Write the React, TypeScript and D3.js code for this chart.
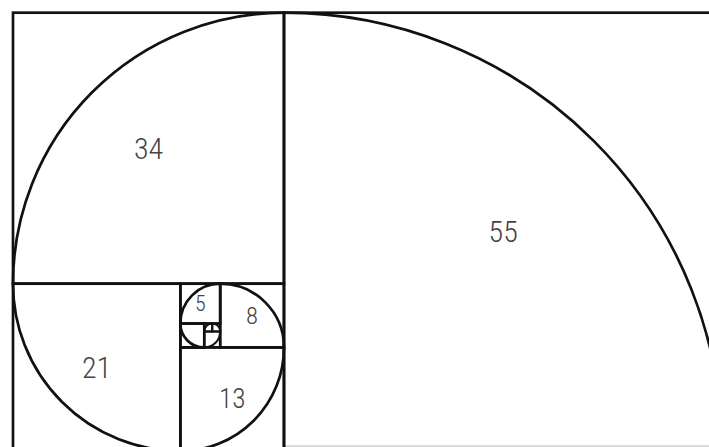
import React, { useEffect } from 'react';
import * as d3 from 'd3';

// Fibonacci squares, biggest first, and the side each one is cut from
const sizes = [55, 34, 21, 13, 8, 5, 3, 2, 1, 1];
const sides = ['right', 'top', 'left', 'bottom'];
const labelled = [55, 34, 21, 13, 8, 5];

const W = 709;
const H = 447;
const unit = 7.97;
const x0 = 13;
const y0 = 12.7;

const App = () => {
    useEffect(() => {
        document.body.style.margin = '0';
    }, []);

    const total = sizes[0] + sizes[1];
    const x = d3.scaleLinear().domain([0, total]).range([x0, x0 + total * unit]);
    const y = d3.scaleLinear().domain([0, sizes[0]]).range([y0, y0 + sizes[0] * unit]);
    const fontSize = d3.scaleLog().domain([5, 21]).range([22, 30]).clamp(true);

    // peel squares off the rectangle, spiral order
    let rect = { x: 0, y: 0, w: total, h: sizes[0] };
    const squares = sizes.map((s, i) => {
        const side = sides[i % 4];
        let sq, cx, cy, a0, a1;
        if (side === 'right') {
            sq = { x: rect.x + rect.w - s, y: rect.y };
            rect = { ...rect, w: rect.w - s };
            cx = sq.x; cy = sq.y + s; a0 = -Math.PI / 2; a1 = 0;
        } else if (side === 'top') {
            sq = { x: rect.x, y: rect.y };
            rect = { ...rect, y: rect.y + s, h: rect.h - s };
            cx = sq.x + s; cy = sq.y + s; a0 = Math.PI; a1 = Math.PI * 1.5;
        } else if (side === 'left') {
            sq = { x: rect.x, y: rect.y };
            rect = { ...rect, x: rect.x + s, w: rect.w - s };
            cx = sq.x + s; cy = sq.y; a0 = Math.PI / 2; a1 = Math.PI;
        } else {
            sq = { x: rect.x, y: rect.y + rect.h - s };
            rect = { ...rect, h: rect.h - s };
            cx = sq.x; cy = sq.y; a0 = 0; a1 = Math.PI / 2;
        }
        const p = d3.path();
        const r = x(s) - x(0);
        p.moveTo(x(cx) + r * Math.cos(a0), y(cy) + r * Math.sin(a0));
        p.arc(x(cx), y(cy), r, a0, a1);
        return { s, i, ...sq, arc: p.toString() };
    });

    return (
        <svg width={W} height={H} style={{ position: 'absolute', left: 0, top: 0, background: '#fff' }}>
            <rect width={W} height={H} fill="#fff" />
            {/* faint scan edge along the bottom */}
            <line x1={x(sizes[1])} x2={W} y1={446} y2={446} stroke="#b5b5b5" strokeWidth={1} />
            {squares.map(d => (
                <rect key={'r' + d.i}
                    x={x(d.x)} y={y(d.y)}
                    width={x(d.s) - x(0)} height={y(d.s) - y(0)}
                    fill="none" stroke="#111" strokeWidth={d.s > 2 ? 2.7 : 2} />
            ))}
            {squares.map(d => (
                <path key={'a' + d.i} d={d.arc} fill="none" stroke="#111" strokeWidth={d.s > 2 ? 2.7 : 2} />
            ))}
            {squares.filter(d => labelled.includes(d.s)).map(d => (
                <text key={'t' + d.i}
                    x={x(d.x + d.s / 2)} y={y(d.y + d.s / 2)}
                    textAnchor="middle" dominantBaseline="central"
                    fontFamily="'Liberation Sans Narrow', 'Roboto Condensed', 'Liberation Sans', sans-serif"
                    fontWeight={300}
                    fontSize={fontSize(d.s)} fill="#444">
                    {d.s}
                </text>
            ))}
        </svg>
    );
};

export default App;
